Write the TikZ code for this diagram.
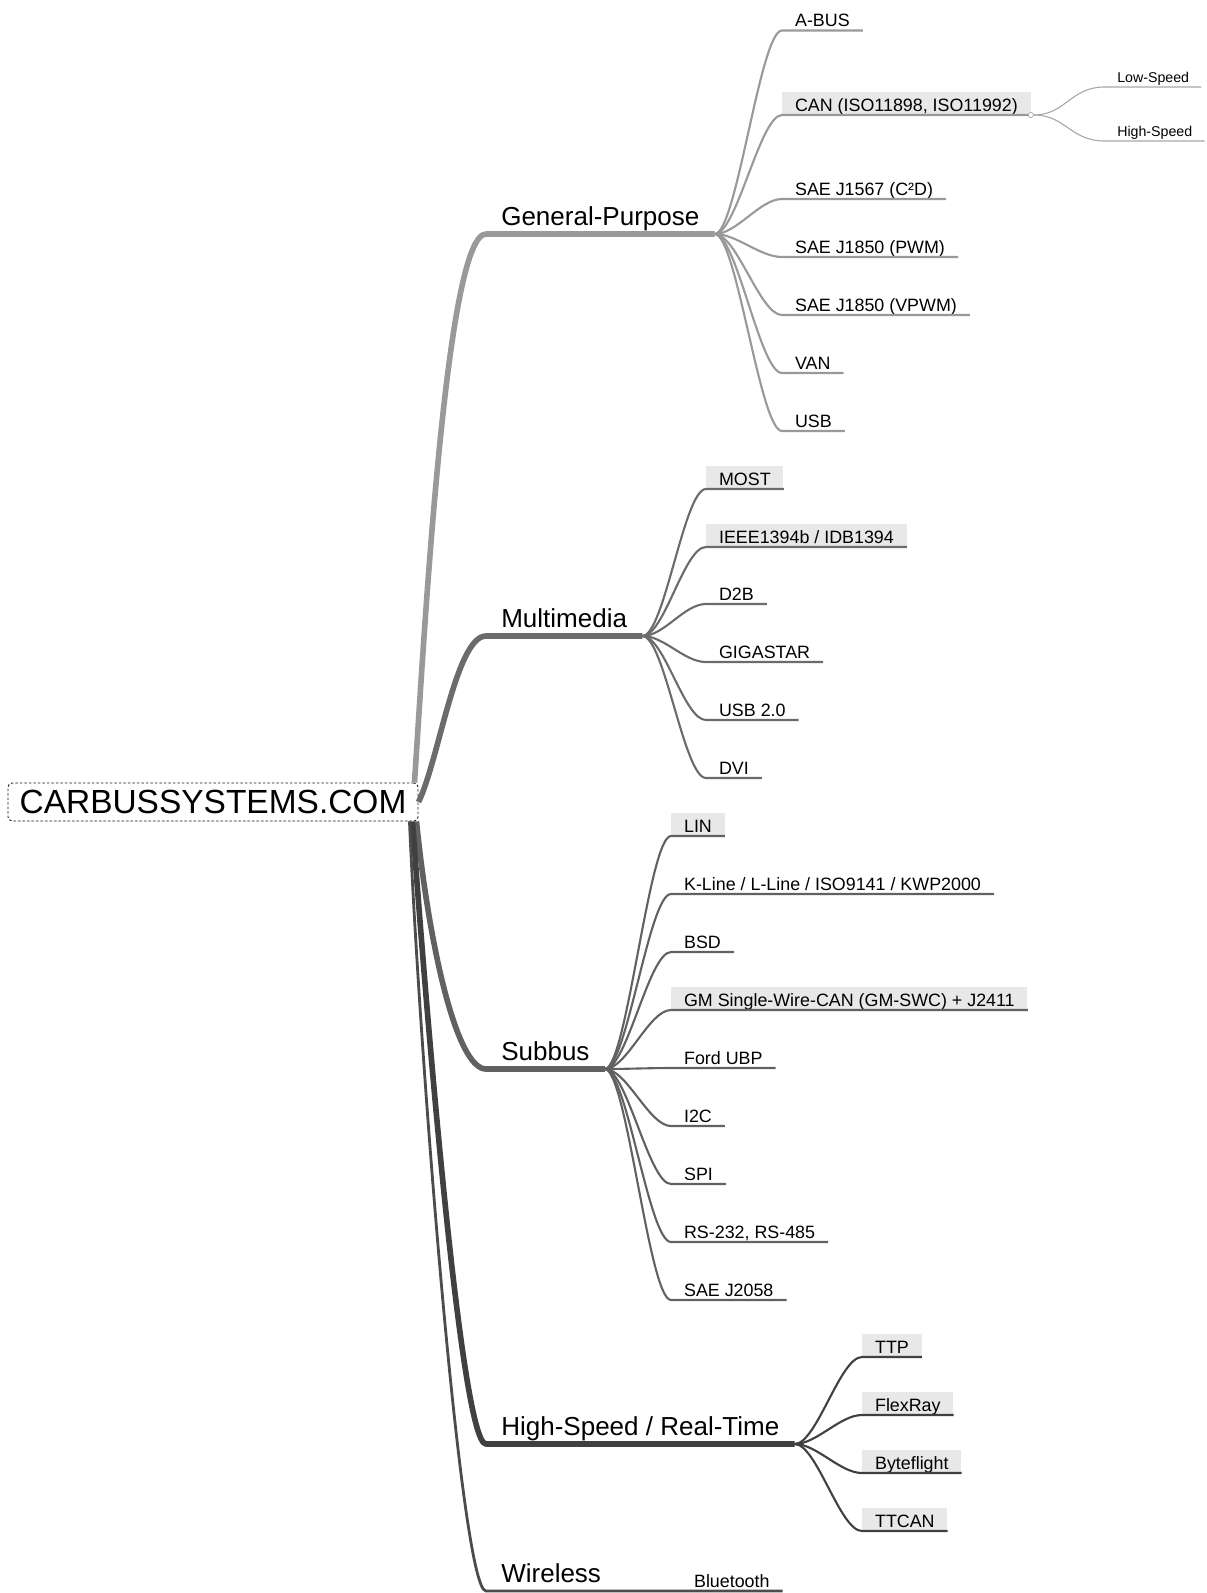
\documentclass[tikz,border=0pt]{standalone}
\usepackage{fontspec}
\setmainfont{Liberation Sans}
\usepackage{tikz}
\definecolor{gpgray}{rgb}{0.60,0.60,0.60}
\definecolor{mmgray}{rgb}{0.42,0.42,0.42}
\definecolor{sbgray}{rgb}{0.38,0.38,0.38}
\definecolor{hsgray}{rgb}{0.25,0.25,0.25}
\definecolor{wlgray}{rgb}{0.30,0.30,0.30}
\definecolor{hilite}{rgb}{0.91,0.91,0.91}
\tikzset{
  root/.style={draw=black!90, line width=0.6pt, dash pattern=on 1.8pt off 1.4pt, rounded corners=3pt, minimum width=10.25cm, minimum height=0.95cm, inner sep=0pt, font=\fontsize{23.8}{28}\selectfont},
  branch/.style={anchor=south west, inner xsep=0.375cm, inner ysep=0pt, text height=0.6cm, text depth=0.21cm, font=\fontsize{18.5}{22}\selectfont},
  leaf/.style={anchor=south west, inner xsep=0.32cm, inner ysep=0pt, text height=0.47cm, text depth=0.0875cm, font=\fontsize{12.7}{15}\selectfont},
  hileaf/.style={leaf, fill=hilite},
  twig/.style={anchor=south west, inner xsep=0.3cm, inner ysep=0pt, text height=0.4cm, text depth=0.11cm, font=\fontsize{10.1}{12}\selectfont},
  trunk/.style={line width=4pt, line join=round},
  limb/.style={line width=1.5pt}
}
\begin{document}
\begin{tikzpicture}[x=0.025cm, y=-0.025cm]
\useasboundingbox (0,0) rectangle (1207,1593);
\node[root] (root) at (213,802) {CARBUSSYSTEMS.COM};
\node[branch] (gp) at (486,234) {General-Purpose};
\node[branch] (mm) at (486,636) {Multimedia};
\node[branch] (sb) at (486,1069) {Subbus};
\node[branch] (hs) at (486,1444) {High-Speed / Real-Time};
\node[branch] (wl) at (486,1591) {Wireless};
\node[leaf] (abus) at (782,30.5) {A-BUS};
\node[hileaf] (can) at (782,115) {CAN (ISO11898, ISO11992)};
\node[leaf] (jc2d) at (782,199) {SAE J1567 (C²D)};
\node[leaf] (jpwm) at (782,257) {SAE J1850 (PWM)};
\node[leaf] (jvpwm) at (782,315) {SAE J1850 (VPWM)};
\node[leaf] (van) at (782,373) {VAN};
\node[leaf] (usb) at (782,431) {USB};
\node[draw=gpgray, fill=white, circle, inner sep=0pt, minimum size=0.13cm] (canpt) at (can.south east) {};
\node[twig] (lows) at (1105,87) {Low-Speed};
\node[twig] (highs) at (1105,141) {High-Speed};
\node[hileaf] (most) at (706,489) {MOST};
\node[hileaf] (ieee) at (706,547) {IEEE1394b / IDB1394};
\node[leaf] (dtwob) at (706,604) {D2B};
\node[leaf] (giga) at (706,662) {GIGASTAR};
\node[leaf] (usbtwo) at (706,720) {USB 2.0};
\node[leaf] (dvi) at (706,778) {DVI};
\node[hileaf] (lin) at (671,836) {LIN};
\node[leaf] (kline) at (671,894) {K-Line / L-Line / ISO9141 / KWP2000};
\node[leaf] (bsd) at (671,952) {BSD};
\node[hileaf] (gmswc) at (671,1010) {GM Single-Wire-CAN (GM-SWC) + J2411};
\node[leaf] (ubp) at (671,1068) {Ford UBP};
\node[leaf] (itwoc) at (671,1126) {I2C};
\node[leaf] (spi) at (671,1184) {SPI};
\node[leaf] (rs) at (671,1242) {RS-232, RS-485};
\node[leaf] (jtwo) at (671,1300) {SAE J2058};
\node[hileaf] (ttp) at (862,1357) {TTP};
\node[hileaf] (flex) at (862,1415) {FlexRay};
\node[hileaf] (bfl) at (862,1473) {Byteflight};
\node[hileaf] (ttcan) at (862,1531) {TTCAN};
\node[leaf] (bt) at (681,1591) {Bluetooth};
\draw[trunk, gpgray] ([shift={(-4,0)}]root.north east) .. controls +(10,-150) and +(-40,0) .. (gp.south west) -- (gp.south east);
\draw[trunk, mmgray] (root.east) .. controls +(20,-40) and +(-30,0) .. (mm.south west) -- (mm.south east);
\draw[trunk, sbgray] ([shift={(-2,0)}]root.south east) .. controls +(12,120) and +(-30,0) .. (sb.south west) -- (sb.south east);
\draw[trunk, hsgray] ([shift={(-6,0)}]root.south east) .. controls +(13,180) and +(-25,0) .. (hs.south west) -- (hs.south east);
\draw[line width=2pt, wlgray] ([shift={(-9,0)}]root.south east) .. controls +(10,230) and +(-25,0) .. (wl.south west) -- (wl.south east) -- (bt.south west) -- (bt.south east);
\draw[limb, gpgray] (gp.south east) .. controls +(22,0) and +(-22,0) .. (abus.south west) -- (abus.south east);
\draw[limb, gpgray] (gp.south east) .. controls +(22,0) and +(-22,0) .. (can.south west) -- (canpt);
\draw[limb, gpgray] (gp.south east) .. controls +(22,0) and +(-22,0) .. (jc2d.south west) -- (jc2d.south east);
\draw[limb, gpgray] (gp.south east) .. controls +(22,0) and +(-22,0) .. (jpwm.south west) -- (jpwm.south east);
\draw[limb, gpgray] (gp.south east) .. controls +(22,0) and +(-22,0) .. (jvpwm.south west) -- (jvpwm.south east);
\draw[limb, gpgray] (gp.south east) .. controls +(22,0) and +(-22,0) .. (van.south west) -- (van.south east);
\draw[limb, gpgray] (gp.south east) .. controls +(22,0) and +(-22,0) .. (usb.south west) -- (usb.south east);
\draw[gpgray!85, line width=0.8pt] (canpt) .. controls +(35,0) and +(-35,0) .. (lows.south west) -- (lows.south east);
\draw[gpgray!85, line width=0.8pt] (canpt) .. controls +(35,0) and +(-35,0) .. (highs.south west) -- (highs.south east);
\draw[limb, mmgray] (mm.south east) .. controls +(22,0) and +(-22,0) .. (most.south west) -- (most.south east);
\draw[limb, mmgray] (mm.south east) .. controls +(22,0) and +(-22,0) .. (ieee.south west) -- (ieee.south east);
\draw[limb, mmgray] (mm.south east) .. controls +(22,0) and +(-22,0) .. (dtwob.south west) -- (dtwob.south east);
\draw[limb, mmgray] (mm.south east) .. controls +(22,0) and +(-22,0) .. (giga.south west) -- (giga.south east);
\draw[limb, mmgray] (mm.south east) .. controls +(22,0) and +(-22,0) .. (usbtwo.south west) -- (usbtwo.south east);
\draw[limb, mmgray] (mm.south east) .. controls +(22,0) and +(-22,0) .. (dvi.south west) -- (dvi.south east);
\draw[limb, sbgray] (sb.south east) .. controls +(22,0) and +(-22,0) .. (lin.south west) -- (lin.south east);
\draw[limb, sbgray] (sb.south east) .. controls +(22,0) and +(-22,0) .. (kline.south west) -- (kline.south east);
\draw[limb, sbgray] (sb.south east) .. controls +(22,0) and +(-22,0) .. (bsd.south west) -- (bsd.south east);
\draw[limb, sbgray] (sb.south east) .. controls +(22,0) and +(-22,0) .. (gmswc.south west) -- (gmswc.south east);
\draw[limb, sbgray] (sb.south east) .. controls +(22,0) and +(-22,0) .. (ubp.south west) -- (ubp.south east);
\draw[limb, sbgray] (sb.south east) .. controls +(22,0) and +(-22,0) .. (itwoc.south west) -- (itwoc.south east);
\draw[limb, sbgray] (sb.south east) .. controls +(22,0) and +(-22,0) .. (spi.south west) -- (spi.south east);
\draw[limb, sbgray] (sb.south east) .. controls +(22,0) and +(-22,0) .. (rs.south west) -- (rs.south east);
\draw[limb, sbgray] (sb.south east) .. controls +(22,0) and +(-22,0) .. (jtwo.south west) -- (jtwo.south east);
\draw[limb, hsgray] (hs.south east) .. controls +(22,0) and +(-22,0) .. (ttp.south west) -- (ttp.south east);
\draw[limb, hsgray] (hs.south east) .. controls +(22,0) and +(-22,0) .. (flex.south west) -- (flex.south east);
\draw[limb, hsgray] (hs.south east) .. controls +(22,0) and +(-22,0) .. (bfl.south west) -- (bfl.south east);
\draw[limb, hsgray] (hs.south east) .. controls +(22,0) and +(-22,0) .. (ttcan.south west) -- (ttcan.south east);
\end{tikzpicture}
\end{document}
